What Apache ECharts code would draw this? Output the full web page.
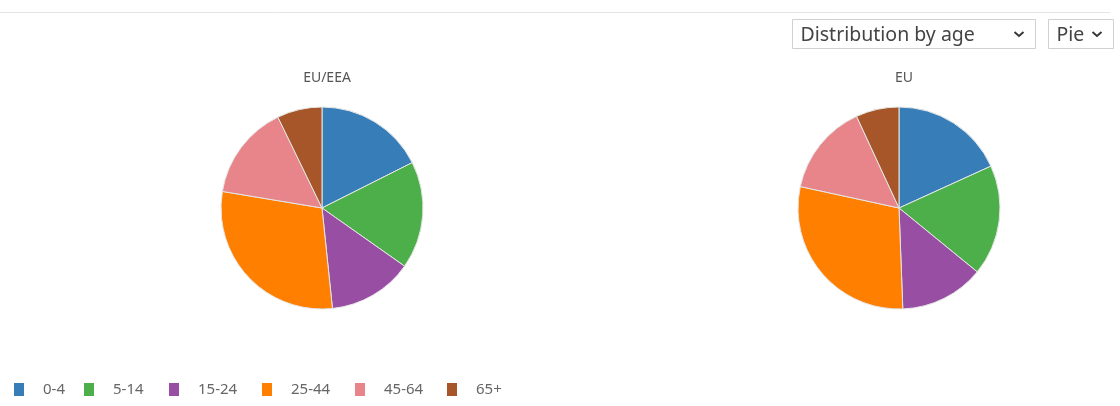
<!DOCTYPE html>
<html>
<head>
<meta charset="utf-8">
<script src="https://cdn.jsdelivr.net/npm/echarts@6/dist/echarts.min.js"></script>
<style>
html,body{margin:0;padding:0;background:#fff;}
#chart{width:1120px;height:406px;}
</style>
</head>
<body>
<div id="chart"></div>
<script>
// ---- data ----
var ageGroups = ['0-4', '5-14', '15-24', '25-44', '45-64', '65+'];
var euEeaValues = [17.6, 17.2, 13.6, 29.3, 15.2, 7.2];
var euValues = [18.2, 17.7, 13.5, 29.0, 14.7, 6.9];
var pieTitles = ['EU/EEA', 'EU'];
var colors = ['#377eb8', '#4daf4a', '#984ea3', '#ff7f00', '#e7858a', '#a65628'];
var selectLabels = ['Distribution by age', 'Pie'];

function toData(vals) {
  return ageGroups.map(function (g, i) { return { name: g, value: vals[i] }; });
}

var chart = echarts.init(document.getElementById('chart'), null, { renderer: 'canvas' });
var font = '"Noto Sans", sans-serif';

function pieSeries(vals, cx, cy) {
  return {
    type: 'pie',
    center: [cx, cy],
    radius: 101,
    startAngle: 90,
    clockwise: true,
    label: { show: false },
    labelLine: { show: false },
    emphasis: { disabled: true },
    animation: false,
    itemStyle: { borderColor: '#e6e6e6', borderWidth: 1 },
    data: toData(vals)
  };
}

function selectBox(x, y, w, h, label) {
  return {
    type: 'group',
    children: [
      { type: 'rect', shape: { x: x, y: y, width: w, height: h },
        style: { fill: '#fff', stroke: '#d0d0d0', lineWidth: 1 } },
      { type: 'text', x: x + 8, y: y + h / 2 + 1,
        style: { text: label, font: '19.5px ' + font, fill: '#444', verticalAlign: 'middle' } },
      { type: 'polyline', shape: { points: [[x + w - 21, y + h / 2 - 2], [x + w - 16.5, y + h / 2 + 2], [x + w - 12, y + h / 2 - 2]] },
        style: { stroke: '#333', lineWidth: 1.8, fill: null } }
    ]
  };
}

// legend item x positions (layout only)
var legendLefts = [14, 84, 169, 262, 355, 447];

var legends = ageGroups.map(function (g, i) {
  return {
    data: [g],
    left: legendLefts[i],
    top: 382,
    padding: 0,
    orient: 'horizontal',
    icon: 'rect',
    itemWidth: 10,
    itemHeight: 13,
    selectedMode: false,
    itemStyle: { borderWidth: 0 },
    textStyle: { fontFamily: font, fontSize: 15, color: '#666', padding: [0, 0, 0, 14] }
  };
});

var option = {
  backgroundColor: '#fff',
  color: colors,
  animation: false,
  title: [
    { text: pieTitles[0], left: 322, top: 66, textAlign: 'center',
      textStyle: { fontFamily: font, fontSize: 14, fontWeight: 'normal', color: '#555' } },
    { text: pieTitles[1], left: 899, top: 66, textAlign: 'center',
      textStyle: { fontFamily: font, fontSize: 14, fontWeight: 'normal', color: '#555' } }
  ],
  legend: legends,
  graphic: [
    { type: 'line', shape: { x1: 0, y1: 12.5, x2: 1110, y2: 12.5 },
      style: { stroke: '#e4e4e4', lineWidth: 1 } },
    selectBox(792.5, 19.5, 243, 29, selectLabels[0]),
    selectBox(1048.5, 19.5, 65, 29, selectLabels[1])
  ],
  series: [
    pieSeries(euEeaValues, 322, 208),
    pieSeries(euValues, 899, 208)
  ]
};
chart.setOption(option);
</script>
</body>
</html>
